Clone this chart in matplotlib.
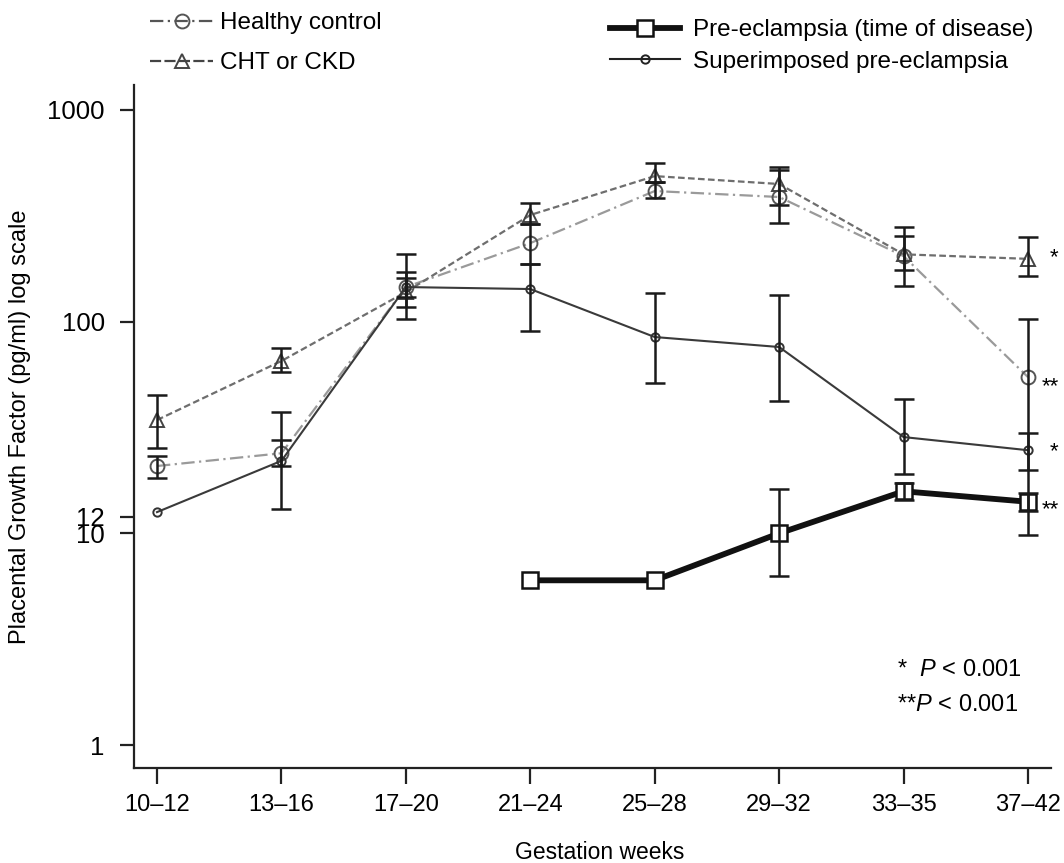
import numpy as np
import matplotlib
matplotlib.use("Agg")
import matplotlib.pyplot as plt
from matplotlib.lines import Line2D

plt.rcParams["font.family"] = ["Liberation Sans", "DejaVu Sans"]
plt.rcParams["mathtext.fontset"] = "custom"
plt.rcParams["mathtext.rm"] = "Liberation Sans"
plt.rcParams["mathtext.it"] = "Liberation Sans:italic"

# data (pg/ml)
weeks = ["10\u201312", "13\u201316", "17\u201320", "21\u201324",
         "25\u201328", "29\u201332", "33\u201335", "37\u201342"]

healthy = [20.8, 23.9, 145.7, 235, 414, 388, 204, 54.7]
healthy_hi = [23.2, 27.6, 171.5, 289, 456, 520, 254, 103]
healthy_lo = [18.2, 20.8, 117, 187, 384, 292, 175, 9.8]

cht = [34.3, 65.2, 138, 319, 487, 447, 208, 198]
cht_hi = [45, 75, 160, 363, 561, 537, 280, 251]
cht_lo = [25.3, 57.8, 131, 289, 456, 356, 147, 164]

superimp = [12.6, 22.0, 145.7, 142.6, 84.6, 75.9, 28.5, 24.7]
superimp_hi = [np.nan, 37.4, 208, 187, 136.5, 133.6, 43.1, 29.8]
superimp_lo = [np.nan, 13.0, 103, 90.3, 51.3, 42.2, 19.1, 19.9]

pe = [np.nan, np.nan, np.nan, 6.0, 6.0, 10.0, 15.8, 14.1]
pe_hi = [np.nan, np.nan, np.nan, np.nan, np.nan, 16.2, 17.3, 15.5]
pe_lo = [np.nan, np.nan, np.nan, np.nan, np.nan, 6.3, 14.4, 12.7]

yticks = [1, 10, 12, 100, 1000]

W, H = 1064, 863
fig = plt.figure(figsize=(W / 100, H / 100), dpi=100)
ax = fig.add_axes([134 / W, 1 - 768 / H, (1051 - 134) / W, (768 - 85) / H])

x = np.arange(len(weeks))


def series(ax, y, lo, hi, **kw):
    y = np.asarray(y, float)
    lo = np.asarray(lo, float)
    hi = np.asarray(hi, float)
    ax.plot(x, y, **kw)
    m = ~np.isnan(hi)
    ax.errorbar(x[m], y[m], yerr=[y[m] - lo[m], hi[m] - y[m]], fmt="none",
                ecolor="#1a1a1a", elinewidth=1.8, capsize=7, capthick=1.8, zorder=5)


series(ax, healthy, healthy_lo, healthy_hi, color="#9a9a9a", lw=1.6,
       ls=(0, (6, 2, 1, 2)), marker="o", ms=10, mfc="none", mec="#555555", mew=1.4, zorder=3)
series(ax, cht, cht_lo, cht_hi, color="#6e6e6e", lw=1.6,
       ls=(0, (3, 1.5)), marker="^", ms=10, mfc="none", mec="#444444", mew=1.4, zorder=3)
series(ax, superimp, superimp_lo, superimp_hi, color="#3a3a3a", lw=1.5,
       ls="-", marker="o", ms=6, mfc="none", mec="#333333", mew=1.4, zorder=3)
series(ax, pe, pe_lo, pe_hi, color="#111111", lw=4.2,
       ls="-", marker="s", ms=11, mfc="white", mec="#111111", mew=1.8, zorder=4)

ax.set_yscale("log")
ax.set_ylim(0.779, 1312)
ax.set_xlim(-0.185, 7.185)
ax.set_yticks(yticks)
ax.set_yticklabels([str(t) for t in yticks])
ax.minorticks_off()
ax.set_xticks(x)
ax.set_xticklabels(weeks)

for s in ["top", "right"]:
    ax.spines[s].set_visible(False)
for s in ["left", "bottom"]:
    ax.spines[s].set_linewidth(1.6)
    ax.spines[s].set_color("#222222")
ax.tick_params(axis="y", length=10, width=1.6, pad=11, labelsize=18.5, color="#222222")
ax.tick_params(axis="x", length=11.5, width=1.6, pad=7, labelsize=17, color="#222222")
ax.yaxis.get_ticklines()[-2].set_color("#999999")

ax.set_ylabel("Placental Growth Factor (pg/ml) log scale", fontsize=17, labelpad=12)
fig.text(600 / W, 1 - 852 / H, "Gestation weeks", fontsize=16.5, ha="center", va="center")

# significance markers next to the last group
last = len(weeks) - 1
for vals, mark, dx, dy in [(cht, "*", 26, 1), (healthy, "**", 22, -7),
                           (superimp, "*", 26, -1), (pe, "**", 22, -6)]:
    ax.annotate(mark, (last, vals[last]), xytext=(dx * 0.72, dy), textcoords="offset points",
                fontsize=16, ha="center", va="center")

fig.text(897 / W, 1 - 670 / H, "*  $P$ < 0.001", fontsize=17, ha="left", va="center")
fig.text(897 / W, 1 - 705 / H, "**$P$ < 0.001", fontsize=17, ha="left", va="center")

h_left = [
    Line2D([], [], color="#555555", lw=1.6, ls=(0, (6, 2, 1, 2)), marker="o", ms=10,
           mfc="none", mec="#555555", mew=1.4),
    Line2D([], [], color="#444444", lw=1.6, ls=(0, (5, 1.5)), marker="^", ms=10,
           mfc="none", mec="#444444", mew=1.4),
]
h_right = [
    Line2D([], [], color="#111111", lw=4.2, marker="s", ms=11, mfc="white", mec="#111111", mew=1.8),
    Line2D([], [], color="#222222", lw=1.5, marker="o", ms=6, mfc="none", mec="#222222", mew=1.4),
]
leg1 = fig.legend(h_left, ["Healthy control", "CHT or CKD"], loc="upper left",
                  bbox_to_anchor=(150 / W, 1 - 12 / H), frameon=False, fontsize=17.5,
                  handlelength=2.6, handletextpad=0.3, labelspacing=0.75,
                  borderpad=0, borderaxespad=0)
leg2 = fig.legend(h_right, ["Pre-eclampsia (time of disease)", "Superimposed pre-eclampsia"],
                  loc="upper left", bbox_to_anchor=(610 / W, 1 - 19 / H), frameon=False,
                  fontsize=17.5, handlelength=2.9, handletextpad=0.5, labelspacing=0.4,
                  borderpad=0, borderaxespad=0)

fig.savefig("out.png", dpi=100)
